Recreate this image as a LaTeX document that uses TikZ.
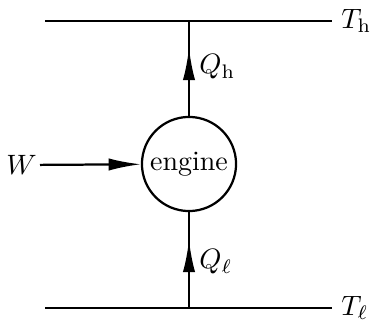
\documentclass[tikz,border=0pt]{standalone}
\usepackage{amsmath,amssymb}
\usetikzlibrary{arrows.meta}
\tikzset{
 every node/.append style={font=\normalsize,text=black},
 engine/.style={draw,circle,line width=.8pt,minimum size=33.6pt,inner sep=0pt},
 tag/.style={inner sep=1pt},
 flow/.style={-{Latex[length=11.5pt,width=4.4pt]},line width=.8pt},
 reservoir/.style={line width=.8pt},
}
\begin{document}
\begin{tikzpicture}[x=0.357pt,y=-0.357pt]

\useasboundingbox (0,0) rectangle (371,320);
\node[engine] (eng) at (189,164) {engine};
\node[tag,anchor=east] (w) at (40,165) {$W$};
\coordinate (hl) at (45,21); \coordinate (hr) at (332,21);
\coordinate (ll) at (45,308); \coordinate (lr) at (332,308);
\coordinate (htop) at (189,21); \coordinate (lbot) at (189,308);
\coordinate (qhtip) at (189,48); \coordinate (qltip) at (189,240);
\node[tag,anchor=west] (th) at (338,21) {$T_{\mathrm{h}}$};
\node[tag,anchor=west] (tl) at (338,308) {$T_{\ell}$};
\node[tag,anchor=west] (qh) at (196,67) {$Q_{\mathrm{h}}$};
\node[tag,anchor=west] (ql) at (196,262) {$Q_{\ell}$};
\draw[reservoir] (hl) -- (hr);
\draw[reservoir] (ll) -- (lr);
\draw[flow] (w) -- (eng);
\draw[reservoir] (eng.north) -- (htop); \draw[flow] (eng.north) -- (qhtip);
\draw[reservoir] (lbot) -- (eng.south); \draw[flow] (lbot) -- (qltip);
\end{tikzpicture}
\end{document}
